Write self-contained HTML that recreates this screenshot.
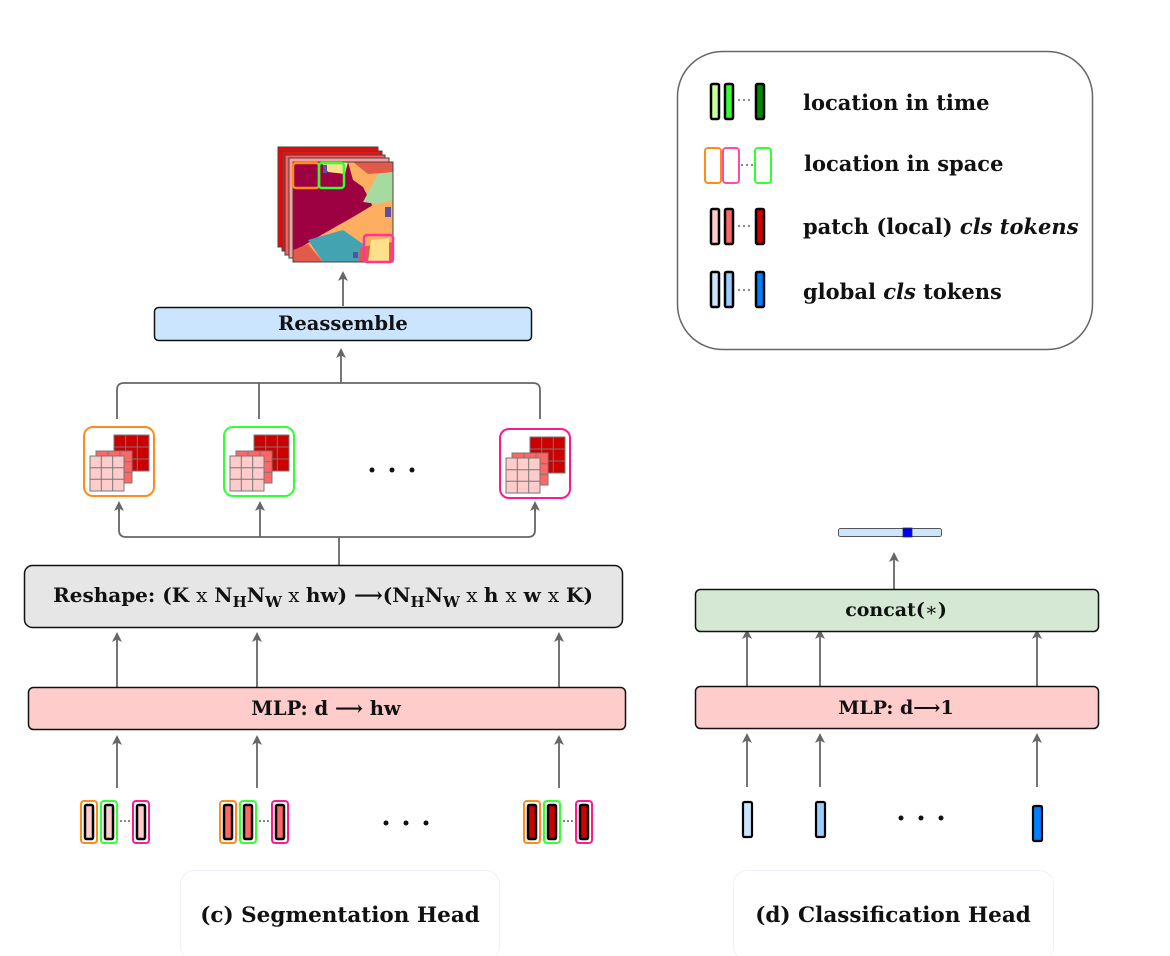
<!DOCTYPE html>
<html><head><meta charset="utf-8"><style>
html,body{margin:0;padding:0;background:#fff;}
svg{display:block;}
text{font-family:"DejaVu Serif","Liberation Serif",serif;font-weight:bold;fill:#111;}
</style></head><body>
<svg width="1170" height="956" viewBox="0 0 1170 956" xmlns="http://www.w3.org/2000/svg">
<defs>
<marker id="ah" markerWidth="10" markerHeight="10" refX="5" refY="5" orient="auto" markerUnits="userSpaceOnUse">
<path d="M0,0 L10,5 L0,10 L2.5,5 Z" fill="#666"/>
</marker>
<g id="patch">
 <g stroke="#777" stroke-width="1">
  <rect x="30" y="8" width="35" height="36" fill="#cc0000"/>
  <path d="M41.7 8V44M53.3 8V44M30 20H65M30 32H65" fill="none"/>
  <rect x="12" y="24" width="36" height="32" fill="#ff6666"/>
  <path d="M24 24V56M36 24V56M12 34.7H48M12 45.3H48" fill="none"/>
  <rect x="6" y="29" width="34" height="35" fill="#ffcccc"/>
  <path d="M17.3 29V64M28.7 29V64M6 40.7H40M6 52.3H40" fill="none"/>
 </g>
</g>
</defs>

<!-- Legend -->
<rect x="677.5" y="51.5" width="415" height="298" rx="45" fill="#fff" stroke="#666" stroke-width="1.5"/>
<g stroke="#000" stroke-width="2.5">
 <rect x="711" y="84" width="8" height="35" rx="1.5" fill="#ccff99"/>
 <rect x="725" y="84" width="8" height="35" rx="1.5" fill="#33ff33"/>
 <rect x="756" y="84" width="8" height="35" rx="1.5" fill="#008800"/>
 <rect x="711" y="209" width="8" height="35" rx="1.5" fill="#ffcccc"/>
 <rect x="725" y="209" width="8" height="35" rx="1.5" fill="#ff6666"/>
 <rect x="756" y="209" width="8" height="35" rx="1.5" fill="#cc0000"/>
 <rect x="711" y="272" width="8" height="35" rx="1.5" fill="#cce5ff"/>
 <rect x="725" y="272" width="8" height="35" rx="1.5" fill="#99ccff"/>
 <rect x="756" y="272" width="8" height="35" rx="1.5" fill="#007fff"/>
</g>
<g fill="none" stroke-width="2">
 <rect x="705" y="148" width="16" height="35" rx="3" stroke="#ff8c1a"/>
 <rect x="723" y="148" width="16" height="35" rx="3" stroke="#ff4aa8"/>
 <rect x="755" y="148" width="16" height="35" rx="3" stroke="#33ff33"/>
</g>
<g fill="#333"><circle cx="739" cy="100" r="0.9"/><circle cx="744" cy="100" r="0.9"/><circle cx="749" cy="100" r="0.9"/>
<circle cx="742" cy="165" r="0.9"/><circle cx="747" cy="165" r="0.9"/><circle cx="752" cy="165" r="0.9"/>
<circle cx="739" cy="226" r="0.9"/><circle cx="744" cy="226" r="0.9"/><circle cx="749" cy="226" r="0.9"/>
<circle cx="739" cy="290" r="0.9"/><circle cx="744" cy="290" r="0.9"/><circle cx="749" cy="290" r="0.9"/></g>
<text x="803" y="110" font-size="21">location in time</text>
<text x="804" y="171" font-size="21">location in space</text>
<text x="803" y="234" font-size="21">patch (local) <tspan font-style="italic">cls tokens</tspan></text>
<text x="803" y="299" font-size="21">global <tspan font-style="italic">cls</tspan> tokens</text>

<!-- Segmentation output image -->
<g stroke="#444" stroke-width="1">
 <rect x="278" y="147" width="100" height="100" fill="#ff0000"/>
 <rect x="282" y="151" width="100" height="100" fill="#ee1111"/>
 <rect x="285" y="155" width="100" height="100" fill="#f46060"/>
 <rect x="289" y="158" width="100" height="100" fill="#f8a0a0"/>
</g>
<svg x="293" y="162" width="100" height="100" viewBox="0 0 100 100">
 <rect width="100" height="100" fill="#9e0142"/>
 <polygon points="0,100 0,90 30,72 60,55 85,40 100,38 100,100" fill="#fdae61"/>
 <polygon points="55,0 100,0 100,45 80,45 70,25 60,18" fill="#fdae61"/>
 <polygon points="60,0 100,0 100,10 75,12" fill="#e35a4b"/>
 <polygon points="70,40 85,12 100,10 100,38 85,42" fill="#a6dba0"/>
 <polygon points="28,0 55,0 52,12 35,10" fill="#fee08b"/>
 <polygon points="15,78 50,68 70,82 65,100 30,100" fill="#43a3b0"/>
 <polygon points="0,88 15,82 30,100 0,100" fill="#e35a4b"/>
 <polygon points="68,85 100,80 100,100 65,100" fill="#e35a4b"/>
 <polygon points="78,78 96,76 96,100 75,100" fill="#fee08b"/>
 <rect x="30" y="3" width="4" height="8" fill="#5e4fa2"/>
 <rect x="92" y="45" width="6" height="10" fill="#5e4fa2"/>
 <rect x="60" y="90" width="5" height="6" fill="#5e4fa2"/>
</svg>
<rect x="293" y="162" width="100" height="100" fill="none" stroke="#444" stroke-width="1"/>
<rect x="293" y="163" width="26" height="25" rx="3" fill="none" stroke="#ff8c1a" stroke-width="2.5"/>
<rect x="319" y="163" width="25" height="25" rx="3" fill="none" stroke="#33ff33" stroke-width="2.5"/>
<rect x="364" y="235" width="29" height="27" rx="3" fill="none" stroke="#ff3399" stroke-width="2.5"/>

<!-- connectors seg -->
<g stroke="#666" stroke-width="1.8" fill="none">
 <line x1="343" y1="306" x2="343" y2="276" marker-end="url(#ah)"/>
 <line x1="341" y1="383" x2="341" y2="353" marker-end="url(#ah)"/>
 <path d="M117 419 V390 Q117 383 124 383 H533 Q540 383 540 390 V419"/>
 <line x1="259" y1="383" x2="259" y2="419"/>
 <path d="M119 505 V530 Q119 537 126 537 H528 Q535 537 535 530 V505" />
 <line x1="119" y1="512" x2="119" y2="506" marker-end="url(#ah)"/>
 <line x1="535" y1="512" x2="535" y2="506" marker-end="url(#ah)"/>
 <line x1="260" y1="537" x2="260" y2="506" marker-end="url(#ah)"/>
 <line x1="339" y1="537" x2="339" y2="565"/>
 <line x1="117" y1="687" x2="117" y2="637" marker-end="url(#ah)"/>
 <line x1="257" y1="687" x2="257" y2="637" marker-end="url(#ah)"/>
 <line x1="559" y1="687" x2="559" y2="637" marker-end="url(#ah)"/>
 <line x1="117" y1="788" x2="117" y2="740" marker-end="url(#ah)"/>
 <line x1="257" y1="788" x2="257" y2="740" marker-end="url(#ah)"/>
 <line x1="559" y1="788" x2="559" y2="740" marker-end="url(#ah)"/>
 <line x1="894" y1="589" x2="894" y2="557" marker-end="url(#ah)"/>
 <line x1="747" y1="686" x2="747" y2="634" marker-end="url(#ah)"/>
 <line x1="820" y1="686" x2="820" y2="634" marker-end="url(#ah)"/>
 <line x1="1037" y1="686" x2="1037" y2="634" marker-end="url(#ah)"/>
 <line x1="747" y1="787" x2="747" y2="738" marker-end="url(#ah)"/>
 <line x1="820" y1="787" x2="820" y2="738" marker-end="url(#ah)"/>
 <line x1="1037" y1="787" x2="1037" y2="738" marker-end="url(#ah)"/>
</g>

<!-- Reassemble -->
<rect x="154.5" y="307.5" width="377" height="33" rx="4" fill="#cce5ff" stroke="#111" stroke-width="1.5"/>
<text x="343" y="330" font-size="19.5" text-anchor="middle">Reassemble</text>

<!-- patch boxes -->
<rect x="84" y="427" width="70" height="69" rx="9" fill="#fff" stroke="#ff8c1a" stroke-width="2"/>
<use href="#patch" x="84" y="427"/>
<rect x="224" y="427" width="70" height="69" rx="9" fill="#fff" stroke="#33ff33" stroke-width="2"/>
<use href="#patch" x="224" y="427"/>
<rect x="500" y="429" width="70" height="69" rx="9" fill="#fff" stroke="#ff1a8c" stroke-width="2"/>
<use href="#patch" x="500" y="429"/>
<g fill="#111"><circle cx="372" cy="470" r="2.5"/><circle cx="392" cy="470" r="2.5"/><circle cx="412" cy="470" r="2.5"/></g>

<!-- Reshape -->
<rect x="24.5" y="565.5" width="598" height="62" rx="8" fill="#e6e6e6" stroke="#111" stroke-width="1.5"/>
<text x="323" y="602" font-size="20" text-anchor="middle">Reshape: (K <tspan font-weight="normal">x</tspan> N<tspan dy="5" font-size="15">H</tspan><tspan dy="-5">N</tspan><tspan dy="5" font-size="15">W</tspan><tspan dy="-5" font-weight="normal"> x </tspan>hw)  ⟶(N<tspan dy="5" font-size="15">H</tspan><tspan dy="-5">N</tspan><tspan dy="5" font-size="15">W</tspan><tspan dy="-5" font-weight="normal"> x </tspan>h <tspan font-weight="normal">x</tspan> w <tspan font-weight="normal">x</tspan> K)</text>

<!-- MLP seg -->
<rect x="28.5" y="687.5" width="597" height="42" rx="5" fill="#ffcccc" stroke="#111" stroke-width="1.5"/>
<text x="326" y="715" font-size="19.5" text-anchor="middle">MLP: d  ⟶  hw</text>

<!-- seg tokens -->
<g id="tg1">
 <rect x="81" y="801" width="16" height="42" rx="3" fill="none" stroke="#ff8c1a" stroke-width="2"/>
 <rect x="101" y="801" width="16" height="42" rx="3" fill="none" stroke="#33ff33" stroke-width="2"/>
 <rect x="133" y="801" width="16" height="42" rx="3" fill="none" stroke="#ff1a8c" stroke-width="2"/>
</g>
<use href="#tg1" x="139"/>
<use href="#tg1" x="443"/>
<g stroke="#000" stroke-width="2.5">
 <rect x="85" y="805" width="8" height="34" rx="1.5" fill="#ffcccc"/>
 <rect x="105" y="805" width="8" height="34" rx="1.5" fill="#ffcccc"/>
 <rect x="137" y="805" width="8" height="34" rx="1.5" fill="#ffcccc"/>
 <rect x="224" y="805" width="8" height="34" rx="1.5" fill="#ff6666"/>
 <rect x="244" y="805" width="8" height="34" rx="1.5" fill="#ff6666"/>
 <rect x="276" y="805" width="8" height="34" rx="1.5" fill="#ff6666"/>
 <rect x="528" y="805" width="8" height="34" rx="1.5" fill="#cc0000"/>
 <rect x="548" y="805" width="8" height="34" rx="1.5" fill="#cc0000"/>
 <rect x="580" y="805" width="8" height="34" rx="1.5" fill="#cc0000"/>
</g>
<g fill="#333"><circle cx="121" cy="821" r="0.9"/><circle cx="125" cy="821" r="0.9"/><circle cx="129" cy="821" r="0.9"/>
<circle cx="260" cy="821" r="0.9"/><circle cx="264" cy="821" r="0.9"/><circle cx="268" cy="821" r="0.9"/>
<circle cx="564" cy="821" r="0.9"/><circle cx="568" cy="821" r="0.9"/><circle cx="572" cy="821" r="0.9"/></g>
<g fill="#111"><circle cx="386" cy="823" r="2.5"/><circle cx="406" cy="823" r="2.5"/><circle cx="426" cy="823" r="2.5"/></g>

<!-- Classification -->
<rect x="838.5" y="528.5" width="103" height="8" rx="2" fill="#cce5ff" stroke="#555" stroke-width="1"/>
<rect x="903" y="528" width="9" height="9" fill="#0000ee" stroke="#333" stroke-width="0.8"/>
<rect x="695.5" y="589.5" width="403" height="42" rx="5" fill="#d5e8d4" stroke="#111" stroke-width="1.5"/>
<text x="896" y="616" font-size="19" text-anchor="middle">concat(<tspan font-weight="normal">∗</tspan>)</text>
<rect x="695.5" y="686.5" width="403" height="42" rx="5" fill="#ffcccc" stroke="#111" stroke-width="1.5"/>
<text x="896" y="714" font-size="19" text-anchor="middle">MLP: d⟶1</text>
<g stroke="#000" stroke-width="2.2">
 <rect x="743" y="802" width="9" height="35" rx="1.5" fill="#cce5ff"/>
 <rect x="816" y="802" width="9" height="35" rx="1.5" fill="#99ccff"/>
 <rect x="1033" y="806" width="9" height="35" rx="1.5" fill="#007fff"/>
</g>
<g fill="#111"><circle cx="901" cy="818" r="2.5"/><circle cx="921" cy="818" r="2.5"/><circle cx="941" cy="818" r="2.5"/></g>

<!-- captions -->
<rect x="180.5" y="870.5" width="319" height="90" rx="14" fill="#fff" stroke="#eef2f8" stroke-width="1"/>
<text x="340" y="922" font-size="21.5" text-anchor="middle">(c) Segmentation Head</text>
<rect x="733.5" y="870.5" width="320" height="90" rx="14" fill="#fff" stroke="#eef2f8" stroke-width="1"/>
<text x="893" y="922" font-size="21.5" text-anchor="middle">(d) Classification Head</text>
</svg>
</body></html>
